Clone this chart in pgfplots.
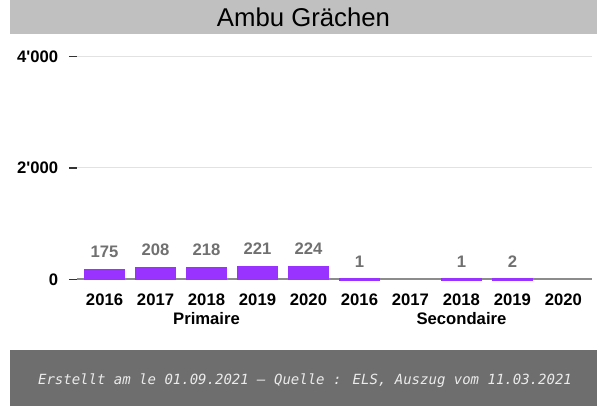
\documentclass[border=0pt]{standalone}
\usepackage{pgfplots}
\pgfplotsset{compat=1.18}
\usepackage{fontspec}
\setmainfont{Liberation Sans}
\newfontfamily\footfont{DejaVu Sans Mono}
\definecolor{barpurple}{HTML}{9933FF}
\definecolor{titlegray}{HTML}{C0C0C0}
\definecolor{footgray}{HTML}{6E6E6E}
\definecolor{valgray}{HTML}{707070}
\definecolor{axgray}{HTML}{8C8C8C}
\definecolor{gridgray}{HTML}{E2E2E2}

% 1px = 0.75pt ; axis origin = plot lower left (px 77, 279.5)
\begin{document}
\begin{tikzpicture}
\path[use as bounding box] (-57.75pt,-94.875pt) rectangle (392.25pt,209.625pt);
% title bar
\fill[titlegray] (-50.25pt,184.125pt) rectangle (390pt,209.625pt);
\node[font=\fontsize{19.3}{21}\selectfont] at (169.875pt,197pt) {Ambu Grächen};
% footer
\fill[footgray] (-50.25pt,-52.875pt) rectangle (390pt,-94.875pt);
\node[font=\footfont\itshape\fontsize{10.5}{12}\selectfont, text=white!92!black] at (171pt,-76.125pt)
  {Erstellt am le 01.09.2021 – Quelle : ELS, Auszug vom 11.03.2021};

\begin{axis}[
    at={(0pt,0pt)}, anchor=south west,
    scale only axis,
    width=386.25pt, height=167.25pt,
    xmin=-0.54, xmax=9.56,
    ymin=0, ymax=4000,
    clip=false,
    /pgf/number format/assume math mode=true,
    axis x line*=bottom, axis y line*=left,
    y axis line style={draw=none},
    x axis line style={draw=none},
    xtick={0,...,9},
    xticklabels={2016,2017,2018,2019,2020,2016,2017,2018,2019,2020},
    xtick style={draw=none},
    xticklabel style={font=\bfseries\fontsize{12.5}{14}\selectfont, anchor=north, inner sep=0pt, yshift=-4.5pt},
    ytick={0,2000,4000},
    yticklabels={0,2\textquotesingle000,4\textquotesingle000},
    ytick pos=left,
    tick align=outside,
    major tick length=6pt,
    ytick style={black!80, line width=1.1pt},
    yticklabel style={font=\bfseries\fontsize{12.5}{14}\selectfont, anchor=east, inner sep=0pt, xshift=-8pt},
    ymajorgrids,
    major grid style={gridgray, line width=0.75pt},
    bar width=0.76, bar shift=0pt,
    vals/.style={ybar, nodes near coords,
      every node near coord/.append style={font=\bfseries\fontsize{12.5}{14}\selectfont, text=valgray, anchor=center, yshift=13.5pt}},
]
% x axis line, drawn before the bars
\addplot[sharp plot, axgray, line width=1.5pt, no marks] coordinates {(-0.54,0) (9.56,0)};
\addplot[vals, fill=barpurple, draw=barpurple, line width=1.2pt] coordinates {(0,175) (1,208) (2,218) (3,221) (4,224)};
\addplot[vals, fill=barpurple, draw=barpurple, line width=1.6pt] coordinates {(5,1) (7,1) (8,2)};
\node[font=\bfseries\fontsize{12.5}{14}\selectfont] at (axis cs:2,0) [yshift=-29pt] {Primaire};
\node[font=\bfseries\fontsize{12.5}{14}\selectfont] at (axis cs:7,0) [yshift=-29pt] {Secondaire};
\end{axis}
\end{tikzpicture}
\end{document}
